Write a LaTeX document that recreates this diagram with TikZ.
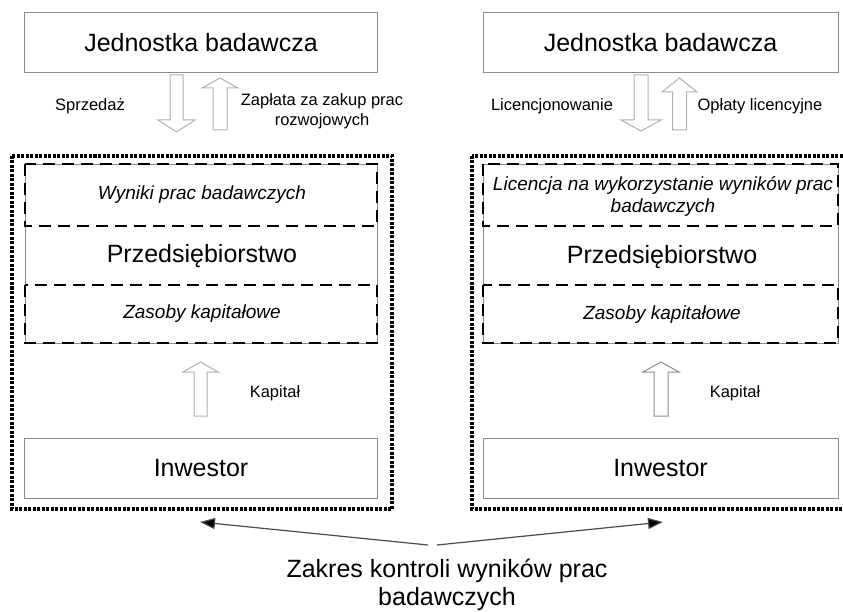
\documentclass[tikz,border=0pt]{standalone}
\usepackage{fontspec}
\setmainfont{Liberation Sans}
\usetikzlibrary{arrows.meta}
\definecolor{boxgray}{HTML}{8C8C8C}
\definecolor{arrgray}{HTML}{B0B0B0}
\definecolor{lingray}{HTML}{4A4A4A}
\newcommand\blockarr[7][arrgray]{\draw[draw=#1,fill=white,line width=1pt,line join=miter] (#2-#6,#5) -- (#2-#6,#4) -- (#2-#7,#4) -- (#2,#3) -- (#2+#7,#4) -- (#2+#6,#4) -- (#2+#6,#5) -- cycle;}
\tikzset{
  bigbox/.style={draw=boxgray, line width=1pt, minimum width=353pt, minimum height=60pt, inner sep=0pt, font=\fontsize{25}{30}\selectfont},
  bigtxt/.style={inner sep=0pt, font=\fontsize{25}{30}\selectfont},
  ittxt/.style={inner sep=0pt, font=\fontsize{19}{22}\selectfont\itshape, align=center},
  smalltxt/.style={inner sep=0pt, font=\fontsize{16.5}{20}\selectfont, align=center},
  thingray/.style={draw=boxgray, line width=0.8pt},
  dashbox/.style={draw=black, line width=2.8pt, dash pattern=on 12pt off 7pt},
  dotbox/.style={draw=black, line width=3.4pt, dash pattern=on 3pt off 1.5pt},
  ptr/.style={draw=lingray, line width=1.2pt, -{Triangle[length=15pt,width=11pt,fill=black]}},
}
\begin{document}
\begin{tikzpicture}[x=1pt,y=-1pt]
\useasboundingbox (0,0) rectangle (843,612);
\clip (0,0) rectangle (843,612);
% ---------- left ----------
\node[bigbox] (jbL) at (201,43) {Jednostka badawcza};
\blockarr{176.5}{132}{120}{75}{6.5}{18.5}
\blockarr{220}{78}{88}{130}{7}{18}
\node[smalltxt] (sprzedaz) at (90,106) {Sprzedaż};
\node[smalltxt] (zaplata) at (322,111) {Zapłata za zakup prac\\rozwojowych};
\draw[dotbox] (12,156) rectangle (392,509);
\draw[thingray] (25,164) rectangle (377,343);
\draw[dashbox] (25,164) rectangle (377,226);
\draw[dashbox] (25,285) rectangle (377,343);
\node[ittxt] (wynikiL) at (202,195) {Wyniki prac badawczych};
\node[bigtxt] (przL) at (202,256) {Przedsiębiorstwo};
\node[ittxt] (zasL) at (202,314) {Zasoby kapitałowe};
\blockarr{200.5}{362}{372}{416}{6.5}{17.5}
\node[smalltxt] (kapL) at (275,393) {Kapitał};
\node[bigbox] (invL) at (201,468.5) {Inwestor};
% ---------- right ----------
\node[bigbox, minimum width=355pt] (jbR) at (660.5,43) {Jednostka badawcza};
\blockarr{641}{131}{120}{75}{7}{20}
\blockarr{679.5}{78}{92}{130}{7}{17.5}
\node[smalltxt] (licenc) at (552,106) {Licencjonowanie};
\node[smalltxt] (oplaty) at (760,106) {Opłaty licencyjne};
\draw[dotbox] (472,156) rectangle (860,509);
\draw[thingray] (483,164) rectangle (838,343);
\draw[dashbox] (483,164) rectangle (838,226);
\draw[dashbox] (483,285) rectangle (838,343);
\node[ittxt] (licR) at (663,196) {Licencja na wykorzystanie wyników prac\\badawczych};
\node[bigtxt] (przR) at (662,257) {Przedsiębiorstwo};
\node[ittxt] (zasR) at (662,315) {Zasoby kapitałowe};
\blockarr[boxgray]{661}{362}{372}{416}{7}{18}
\node[smalltxt] (kapR) at (735,393) {Kapitał};
\node[bigbox, minimum width=355pt] (invR) at (660.5,468.5) {Inwestor};
% ---------- bottom ----------
\node[bigtxt, align=center, font=\fontsize{25}{28}\selectfont] (zakres) at (447,585) {Zakres kontroli wyników prac\\badawczych};
\coordinate (meetL) at (428,545);
\coordinate (meetR) at (437,545);
\coordinate (tipL) at (200,522);
\coordinate (tipR) at (663,522);
\draw[ptr] (meetL) -- (tipL);
\draw[ptr] (meetR) -- (tipR);
\end{tikzpicture}
\end{document}
